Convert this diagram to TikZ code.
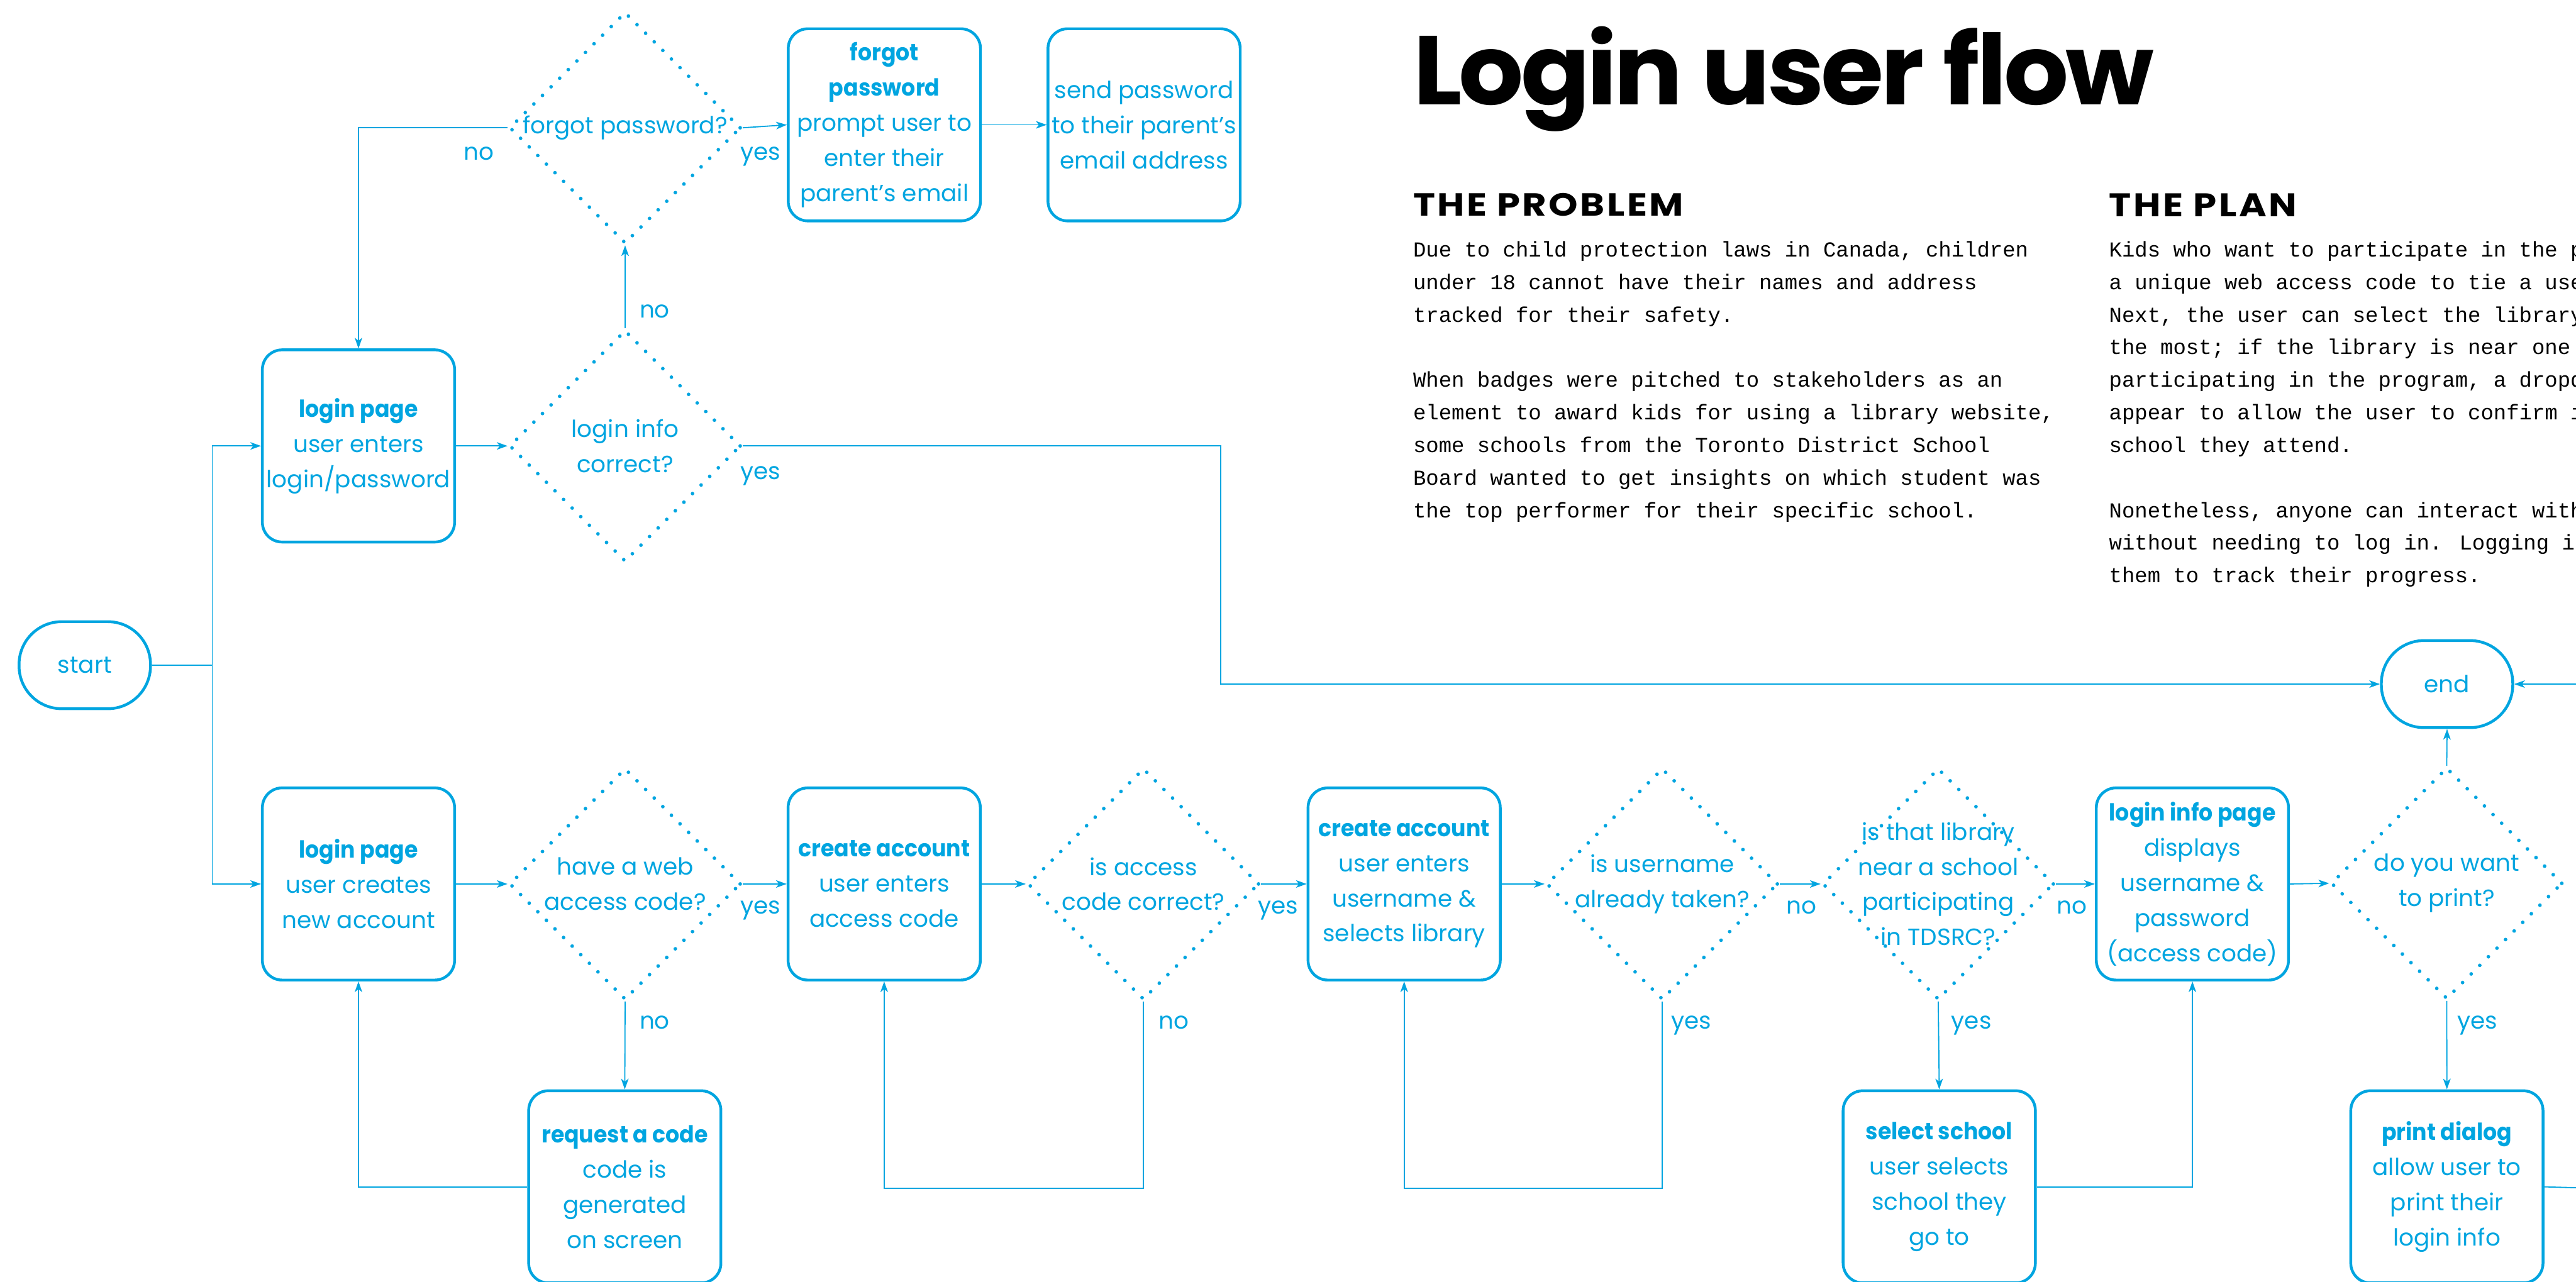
\documentclass[tikz,border=0pt]{standalone}
\usepackage{fontspec}
\usepackage{graphicx}
\usetikzlibrary{shapes.geometric,arrows.meta}
\newfontfamily\diagfont[BoldFeatures={FakeStretch=0.93}]{Poppins}
\newfontfamily\headfont[LetterSpace=6]{Poppins}
\newfontfamily\titlefont[LetterSpace=-3]{Poppins}
\newfontfamily\bodymono{Liberation Mono}
\definecolor{flowblue}{HTML}{00A5E0}
\tikzset{
  dfont/.style={font=\diagfont\fontsize{14.3}{21.4}\selectfont},
  box/.style={draw=flowblue, line width=1.7pt, rounded corners=12pt,
    minimum width=117pt, minimum height=117pt, inner sep=0pt,
    align=center, text=flowblue, dfont,
    execute at begin node={\rule{0pt}{14.7pt}}},
  term/.style={draw=flowblue, line width=1.7pt, rounded corners=26pt,
    minimum width=80pt, minimum height=53pt, inner sep=0pt,
    text=flowblue, dfont},
  dia/.style={diamond, draw=flowblue, line width=2.2pt,
    dash pattern=on 0pt off 7.4pt, line cap=round,
    minimum width=141pt, minimum height=141pt, inner sep=0pt},
  dtext/.style={text=flowblue, align=center, inner sep=0pt, dfont},
  lbl/.style={text=flowblue, anchor=base, inner sep=0pt, dfont},
  conn/.style={draw=flowblue, line width=0.7pt},
  arr/.style={conn, -{Stealth[length=6.5pt,width=4.6pt,inset=1.8pt]}},
  mono/.style={anchor=base west, inner sep=0pt,
    font=\bodymono\fontsize{13}{19.85}\selectfont},
}
\begin{document}
\begin{tikzpicture}[x=1pt,y=-1pt]
\useasboundingbox (0,0) rectangle (1568,780.2);
\clip (0,0) rectangle (1568,780.2);

% ---------- title and text ----------
\node[anchor=north west, inner sep=0pt] (title) at (860,15.9)
  {\resizebox*{451pt}{64pt}{\titlefont\bfseries Login user flow}};
\node[anchor=north west, inner sep=0pt] (hprob) at (860,117.5)
  {\resizebox*{164.6pt}{14pt}{\headfont\bfseries THE PROBLEM}};
\node[anchor=north west, inner sep=0pt] (hplan) at (1283.6,117.5)
  {\resizebox*{114.4pt}{14pt}{\headfont\bfseries THE PLAN}};

\node[mono] (p1) at (860,156.3) {Due to child protection laws in Canada, children};
\node[mono] (p2) at (860,176.15) {under 18 cannot have their names and address};
\node[mono] (p3) at (860,196.0) {tracked for their safety.};
\node[mono] (p4) at (860,235.7) {When badges were pitched to stakeholders as an};
\node[mono] (p5) at (860,255.55) {element to award kids for using a library website,};
\node[mono] (p6) at (860,275.4) {some schools from the Toronto District School};
\node[mono] (p7) at (860,295.25) {Board wanted to get insights on which student was};
\node[mono] (p8) at (860,315.1) {the top performer for their specific school.};

\node[mono] (q1) at (1283.6,156.3) {Kids who want to participate in the p};
\node[mono] (q2) at (1283.6,176.15) {a unique web access code to tie a use};
\node[mono] (q3) at (1283.6,196.0) {Next, the user can select the library};
\node[mono] (q4) at (1283.6,215.85) {the most; if the library is near one};
\node[mono] (q5) at (1283.6,235.7) {participating in the program, a dropd};
\node[mono] (q6) at (1283.6,255.55) {appear to allow the user to confirm if};
\node[mono] (q7) at (1283.6,275.4) {school they attend.};
\node[mono] (q8) at (1283.6,315.1) {Nonetheless, anyone can interact with};
\node[mono] (q9) at (1283.6,334.95) {without needing to log in. Logging in};
\node[mono] (q10) at (1283.6,354.8) {them to track their progress.};

% ---------- nodes ----------
\node[term] (start) at (51.6,405) {start};
\node[term] (end) at (1489.5,416.5) {end};

\node[box] (login1) at (218.2,271.5) {\textbf{login page}\\user enters\\login/password};
\node[dia] (dlogin) at (380.5,271.5) {};
\node[dtext] (tlogin) at (dlogin) {login info\\correct?};
\node[dia] (dforgot) at (380.5,77.8) {};
\node[dtext] (tforgot) at (dforgot) {forgot password?};
\node[box] (forgot) at (538.3,76) {\textbf{forgot}\\\textbf{password}\\prompt user to\\enter their\\parent’s email};
\node[box] (send) at (696.4,76) {send password\\to their parent’s\\email address};

\node[box] (login2) at (218.2,538.2) {\textbf{login page}\\user creates\\new account};
\node[dia] (dweb) at (380.5,538.2) {};
\node[dtext] (tweb) at (dweb) {have a web\\access code?};
\node[box] (create1) at (538.2,538.2) {\textbf{create account}\\user enters\\access code};
\node[dia] (dacc) at (696,538.2) {};
\node[dtext] (tacc) at (dacc) {is access\\code correct?};
\node[box] (create2) at (854.7,538.2) {\textbf{create account}\\user enters\\username \&\\selects library};
\node[dia] (duser) at (1011.8,538.2) {};
\node[dtext] (tuser) at (duser) {is username\\already taken?};
\node[dia] (dlib) at (1179.8,538.2) {};
\node[dtext] (tlib) at (dlib) {is that library\\near a school\\participating\\in TDSRC?};
\node[box] (info) at (1334.5,538.2) {\textbf{login info page}\\displays\\username \&\\password\\(access code)};
\node[dia] (dprint) at (1489.3,537.8) {};
\node[dtext] (tprint) at (dprint) {do you want\\to print?};

\node[box] (req) at (380.3,722.6) {\textbf{request a code}\\code is\\generated\\on screen};
\node[box] (school) at (1180.4,722.6) {\textbf{select school}\\user selects\\school they\\go to};
\node[box] (printd) at (1489.4,722.6) {\textbf{print dialog}\\allow user to\\print their\\login info};

% ---------- connectors ----------
\coordinate (trunk) at (129.2,405);
\draw[conn] (start.east) -- (trunk);
\draw[arr] (trunk) |- (login1.west);
\draw[arr] (trunk) |- (login2.west);

\draw[arr] (login1.east) -- (dlogin.west);
\draw[arr] (dlogin.north) -- (dforgot.south);
\draw[arr] (dforgot.west) -| (login1.north);
\draw[arr] (dforgot.east) -- (forgot.west);
\draw[arr] (forgot.east) -- (send.west);
\coordinate (yesturn) at (743,271.5);
\draw[arr] (dlogin.east) -- (yesturn) |- (end.west);
\coordinate (offend) at (1580,416.5);
\draw[arr] (offend) -- (end.east);

\draw[arr] (login2.east) -- (dweb.west);
\draw[arr] (dweb.east) -- (create1.west);
\draw[arr] (dweb.south) -- (req.north);
\draw[arr] (req.west) -| (login2.south);
\draw[arr] (create1.east) -- (dacc.west);
\draw[arr] (dacc.east) -- (create2.west);
\coordinate (accloop) at (696,723.5);
\draw[arr] (dacc.south) -- (accloop) -| (create1.south);
\draw[arr] (create2.east) -- (duser.west);
\draw[arr] (duser.east) -- (dlib.west);
\coordinate (userloop) at (1011.8,723.5);
\draw[arr] (duser.south) -- (userloop) -| (create2.south);
\draw[arr] (dlib.east) -- (info.west);
\draw[arr] (dlib.south) -- (school.north);
\draw[arr] (school.east) -| (info.south);
\draw[arr] (info.east) -- (dprint.west);
\draw[arr] (dprint.north) -- (end.south);
\draw[arr] (dprint.south) -- (printd.north);
\coordinate (offprint) at (1580,723.5);
\draw[conn] (printd.east) -- (offprint);

% ---------- labels ----------
\node[lbl] (l1) at (291.5,97.3) {no};
\node[lbl] (l2) at (463,97.3) {yes};
\node[lbl] (l3) at (398.5,193.6) {no};
\node[lbl] (l4) at (463,292) {yes};
\node[lbl] (l5) at (463,556.4) {yes};
\node[lbl] (l6) at (398.5,626.4) {no};
\node[lbl] (l7) at (778,556.4) {yes};
\node[lbl] (l8) at (714.5,626.4) {no};
\node[lbl] (l9) at (1096.5,556.4) {no};
\node[lbl] (l10) at (1029.5,626.4) {yes};
\node[lbl] (l11) at (1261,556.4) {no};
\node[lbl] (l12) at (1200,626.4) {yes};
\node[lbl] (l13) at (1508,626.4) {yes};
\end{tikzpicture}
\end{document}
